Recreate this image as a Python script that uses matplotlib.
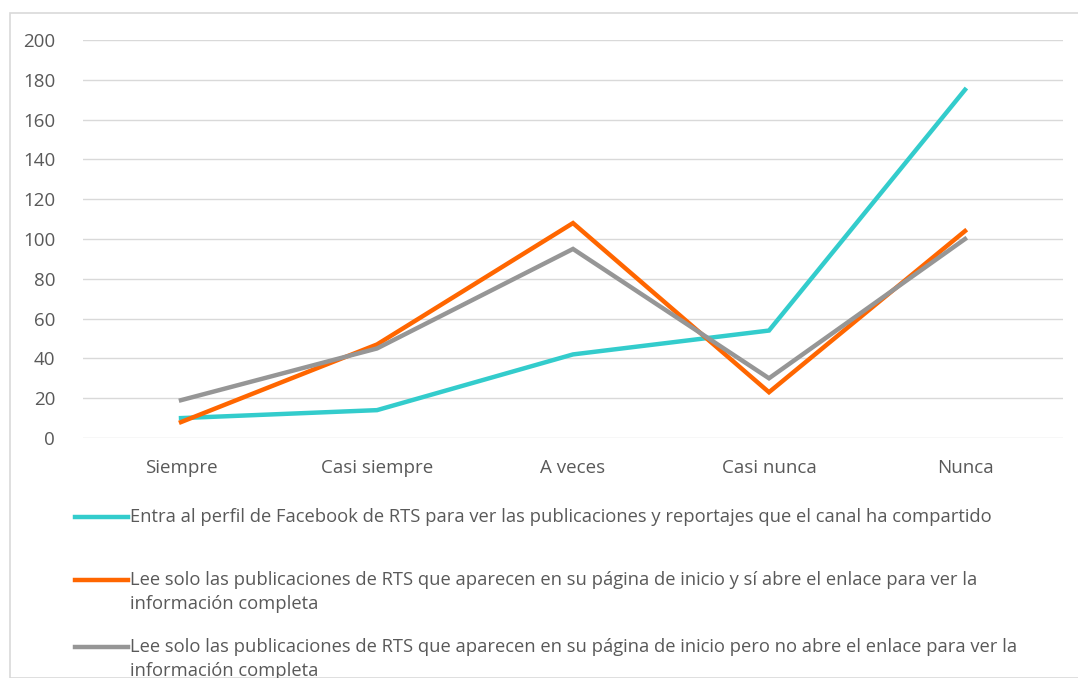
import matplotlib
matplotlib.use("Agg")
import matplotlib.pyplot as plt
from matplotlib.lines import Line2D
from matplotlib.patches import Rectangle

categories = ["Siempre", "Casi siempre", "A veces", "Casi nunca", "Nunca"]
entra = [10, 14, 42, 54, 175]
lee_si = [8, 47, 108, 23, 104]
lee_no = [19, 45, 95, 30, 100]
labels = [
    "Entra al perfil de Facebook de RTS para ver las publicaciones y reportajes que el canal ha compartido",
    "Lee solo las publicaciones de RTS que aparecen en su página de inicio y sí abre el enlace para ver la\ninformación completa",
    "Lee solo las publicaciones de RTS que aparecen en su página de inicio pero no abre el enlace para ver la\ninformación completa",
]
colors = ["#33CCCC", "#FF6600", "#969696"]
yticks = list(range(0, 201, 20))

plt.rcParams['font.family'] = ['Open Sans', 'DejaVu Sans']
W, H = 1078, 678
fig = plt.figure(figsize=(W/100, H/100), dpi=100)
fig.patches.append(Rectangle((10/W, 0), (1080-10)/W, 1-13/H, transform=fig.transFigure,
                             fill=False, edgecolor="#D9D9D9", linewidth=1.2))

ax = fig.add_axes([83/W, 1-438/H, (1063-83)/W, (438-40)/H])
x = list(range(len(categories)))
for vals, c in zip([entra, lee_si, lee_no], colors):
    ax.plot(x, vals, color=c, linewidth=3.2, solid_joinstyle='miter', zorder=3)
ax.set_xlim(-0.5, len(categories)-0.5)
ax.set_ylim(0, 200)
ax.set_yticks(yticks)
ax.set_xticks(x)
ax.set_xticklabels(categories)
ax.grid(axis='y', color="#D9D9D9", linewidth=1)
ax.set_axisbelow(True)
for s in ax.spines.values():
    s.set_visible(False)
ax.tick_params(axis='both', length=0, labelsize=13.5, colors="#595959")
ax.tick_params(axis='y', pad=20)
ax.tick_params(axis='x', pad=15)

ys = [517, 580, 647]
for lab, c, yy in zip(labels, colors, ys):
    fig.add_artist(Line2D([75/W, 128/W], [1-yy/H, 1-yy/H], color=c, linewidth=3.2,
                          transform=fig.transFigure))
    fig.text(130/W, 1-(yy-9)/H, lab, fontsize=13.2, color="#595959", va='top', ha='left',
             linespacing=1.45)

fig.savefig("out.png", dpi=100)
